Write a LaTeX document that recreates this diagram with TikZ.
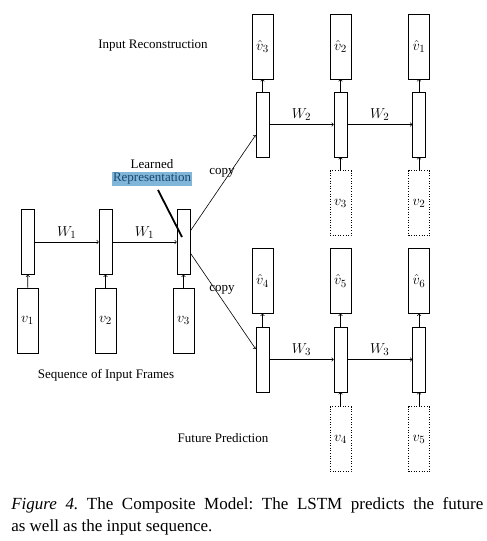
\documentclass[tikz,border=0pt]{standalone}
\usepackage{amssymb,amsmath}
\usepackage{fontspec}
\setmainfont{Liberation Serif}
\usepackage{tikz}
\usetikzlibrary{calc}
\definecolor{selblue}{RGB}{ 128, 182, 216 }
\definecolor{seltext}{RGB}{ 28, 72, 112 }

\begin{document}
\frenchspacing
\begin{tikzpicture}[x=1pt,y=-1pt,font=\fontsize{13}{15}\selectfont,line width=0.6pt]
\tikzstyle{cell}=[draw,inner sep=0,minimum width=13pt,minimum height=65pt]
\tikzstyle{frame}=[draw,inner sep=0,minimum width=21pt,minimum height=65pt,font=\fontsize{15}{17}\selectfont]
\tikzstyle{ghost}=[frame,dotted]
\tikzstyle{weight}=[above,font=\fontsize{15}{17}\selectfont]
\useasboundingbox (0,0) rectangle (487,541);

% encoder
\node(h1)[cell] at (28,242) {};
\node(h2)[cell] at (105.5,242) {};
\node(h3)[cell] at (183.5,242) {};
\node(in1)[frame] at (27.5,320.5) {$v_1$};
\node(in2)[frame] at (105.5,320.5) {$v_2$};
\node(in3)[frame] at (183.5,320.5) {$v_3$};
\draw[->] (in1) -- (h1);
\draw[->] (in2) -- (h2);
\draw[->] (in3) -- (h3);
\draw[->] (h1) -- node[weight]{$W_1$} (h2);
\draw[->] (h2) -- node[weight]{$W_1$} (h3);
\node(seq) at (106,375) {Sequence of Input Frames};

% learned representation
\node(learned) at (152,164) {Learned};
\node(rep)[fill=selblue,text=seltext,inner sep=1pt] at (152,179) {Representation};
\coordinate(rp) at (182,237);
\draw[line width=1.8pt] ($(rep.south)+(6,4)$) -- (rp);

% reconstruction
\node(r1)[cell] at (262.5,124.5) {};
\node(r2)[cell] at (340.5,124.5) {};
\node(r3)[cell] at (419,124.5) {};
\node(o1)[frame] at (262.5,46.5) {$\hat{v}_3$};
\node(o2)[frame] at (340.5,46.5) {$\hat{v}_2$};
\node(o3)[frame] at (419,46.5) {$\hat{v}_1$};
\node(g1)[ghost] at (340.5,203) {$v_3$};
\node(g2)[ghost] at (419,203) {$v_2$};
\foreach \i in {1,2,3} {\draw[->] (r\i) -- (o\i);}
\draw[->] (g1) -- (r2);
\draw[->] (g2) -- (r3);
\draw[->] (r1) -- node[weight]{$W_2$} (r2);
\draw[->] (r2) -- node[weight]{$W_2$} (r3);
\node(rec) at (153,46) {Input Reconstruction};

% prediction
\node(f1)[cell] at (262.5,359.5) {};
\node(f2)[cell] at (340.5,359.5) {};
\node(f3)[cell] at (419,359.5) {};
\node(p1)[frame] at (262.5,281) {$\hat{v}_4$};
\node(p2)[frame] at (340.5,281) {$\hat{v}_5$};
\node(p3)[frame] at (419,281) {$\hat{v}_6$};
\node(k1)[ghost] at (340.5,439) {$v_4$};
\node(k2)[ghost] at (419,439) {$v_5$};
\foreach \i in {1,2,3} {\draw[->] (f\i) -- (p\i);}
\draw[->] (k1) -- (f2);
\draw[->] (k2) -- (f3);
\draw[->] (f1) -- node[weight]{$W_3$} (f2);
\draw[->] (f2) -- node[weight]{$W_3$} (f3);
\node(fut) at (223,438) {Future Prediction};

% copy links
\draw[->] ($(h3.east)+(0,-11)$) -- ($(r1.west)+(0,10.5)$);
\draw[->] ($(h3.east)+(0,11)$) -- ($(f1.west)+(0,-10.5)$);
\node(c1) at (222,173) {copy};
\node(c2) at (222,290) {copy};

% caption
\node(cap)[text width=472pt,align=justify,inner sep=0,anchor=north west,
  font=\fontsize{17}{22}\selectfont] at (11,497)
  {\textit{Figure 4.} The Composite Model: The LSTM predicts the future\linebreak as well as the input sequence.};
\end{tikzpicture}
\end{document}
